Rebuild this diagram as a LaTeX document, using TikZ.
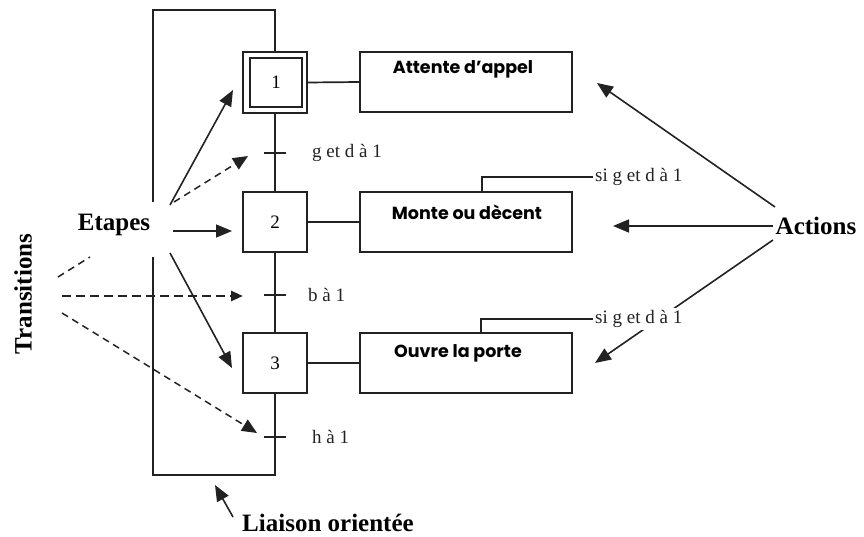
\documentclass[tikz,border=0pt]{standalone}
\usepackage{fontspec}
\setmainfont{Liberation Serif}
\newfontfamily\actfont{Poppins}
\usetikzlibrary{arrows.meta,calc}
\definecolor{ink}{HTML}{222222}
\begin{document}
\begin{tikzpicture}[x=1pt,y=-1pt,
  ln/.style={line width=1.7pt, draw=ink},
  stepbox/.style={draw=ink, line width=1.7pt, minimum width=64pt, minimum height=60pt, inner sep=0pt, font=\fontsize{19}{22}\selectfont},
  actbox/.style={draw=ink, line width=1.7pt, minimum width=212pt, minimum height=60pt, inner sep=0pt},
  acttext/.style={font=\actfont\bfseries\fontsize{17.5}{20}\selectfont, inner sep=0pt},
  small/.style={font=\fontsize{19}{22}\selectfont, inner sep=2pt, anchor=west, text=ink},
  big/.style={font=\bfseries\fontsize{25}{30}\selectfont, inner sep=0pt},
  arr/.style={line width=1.6pt, draw=ink, -{Triangle[length=16pt,width=13pt]}},
  darr/.style={line width=1.5pt, draw=ink, dash pattern=on 7pt off 5pt, -{Triangle[length=15pt,width=13pt]}},
  thdarr/.style={line width=2.6pt, draw=ink, dash pattern=on 9pt off 5pt, -{Triangle[length=12pt,width=10pt]}},
]
\useasboundingbox (0,0) rectangle (864,537);

% steps
\node[stepbox, minimum height=61pt] (s1) at (275,82.5) {};
\node[draw=ink, line width=1.7pt, minimum width=52pt, minimum height=49pt, inner sep=0pt, font=\fontsize{19}{22}\selectfont] (s1i) at (276,82.5) {1};
\node[stepbox] (s2) at (275,222) {2};
\node[stepbox] (s3) at (275,363) {3};

% action boxes
\node[actbox] (a1) at (466,82) {};
\node[actbox] (a2) at (466,222) {};
\node[actbox] (a3) at (466,363) {};
\node[acttext] (a1t) at ($(a1.north)+(-3,18)$) {Attente d’appel};
\node[acttext] (a2t) at ($(a2.north)+(1,21)$) {Monte ou dècent};
\node[acttext] (a3t) at ($(a3.north)+(-8,21)$) {Ouvre la porte};

\draw[ln] (s1.east) -- (a1.west);
\draw[ln] (s2.east) -- (a2.west);
\draw[ln] (s3.east) -- (a3.west);

% loop and links
\coordinate (top) at (275,10);
\coordinate (tl) at (153,10);
\coordinate (gapA) at (153,202);
\coordinate (gapB) at (153,257);
\coordinate (bl) at (153,475);
\coordinate (br) at (275,475);
\draw[ln] (s1.north) -- (top) -- (tl) -- (gapA);
\draw[ln] (gapB) -- (bl) -- (br) -- (s3.south);
\draw[ln] (s1.south) -- (s2.north);
\draw[ln] (s2.south) -- (s3.north);

% transitions
\coordinate (t1) at (275,153);
\coordinate (t2) at (275,295);
\coordinate (t3) at (275,437);
\draw[ln] ($(t1)+(-11,0)$) -- ($(t1)+(11,0)$);
\draw[ln] ($(t2)+(-11,0)$) -- ($(t2)+(11,0)$);
\draw[ln] ($(t3)+(-11,0)$) -- ($(t3)+(11,0)$);
\node[small] (tl1) at (310,153) {g et d à 1};
\node[small] (tl2) at (306,295) {b à 1};
\node[small] (tl3) at (310,437) {h à 1};

% labels
\node[big] (et) at (114,225) {Etapes};
\node[big, rotate=90] (tr) at (23,294) {Transitions};
\node[big] (ac) at (816,226) {Actions};
\node[big] (li) at (328,523) {Liaison orientée};

% Etapes arrows
\coordinate (e1) at (170,205);
\coordinate (e2) at (174,202);
\coordinate (e3) at (173,231);
\coordinate (e4) at (170,253);
\coordinate (p1) at (233,90);
\coordinate (p2) at (248,156);
\coordinate (p3) at (232,231);
\coordinate (p4) at (232,368);
\draw[arr] (e1) -- (p1);
\draw[darr] (e2) -- (p2);
\draw[arr] (e3) -- (p3);
\draw[arr] (e4) -- (p4);

% Transitions arrows
\coordinate (r0a) at (58,277);
\coordinate (r0b) at (90,257);
\coordinate (r1) at (62,296);
\coordinate (r1e) at (243,296);
\coordinate (r2) at (62,313);
\coordinate (r2e) at (257,433);
\draw[ln, line width=1.5pt, dash pattern=on 7pt off 5pt] (r0a) -- (r0b);
\draw[thdarr] (r1) -- (r1e);
\draw[darr] (r2) -- (r2e);

% Actions arrows
\coordinate (f1) at (775,207);
\coordinate (f2) at (773,226);
\coordinate (f3) at (773,240);
\coordinate (q1) at (597,83);
\coordinate (q2) at (613,226);
\coordinate (q3) at (595,363);
\draw[arr] (f1) -- (q1);
\draw[arr] (f2) -- (q2);
\draw[arr] (f3) -- (q3);

% conditions
\node[small] (l2) at (593,177) {si g et d à 1};
\node[small, fill=white] (l3) at (593,319) {si g et d à 1};
\coordinate (c2) at (482,192);
\coordinate (c3) at (481,333);
\draw[ln] (c2) |- (l2.west);
\draw[ln] (c3) |- (l3.west);

% Liaison arrow
\coordinate (g1) at (233,517);
\coordinate (g2) at (215,485);
\draw[arr] (g1) -- (g2);
\end{tikzpicture}
\end{document}
